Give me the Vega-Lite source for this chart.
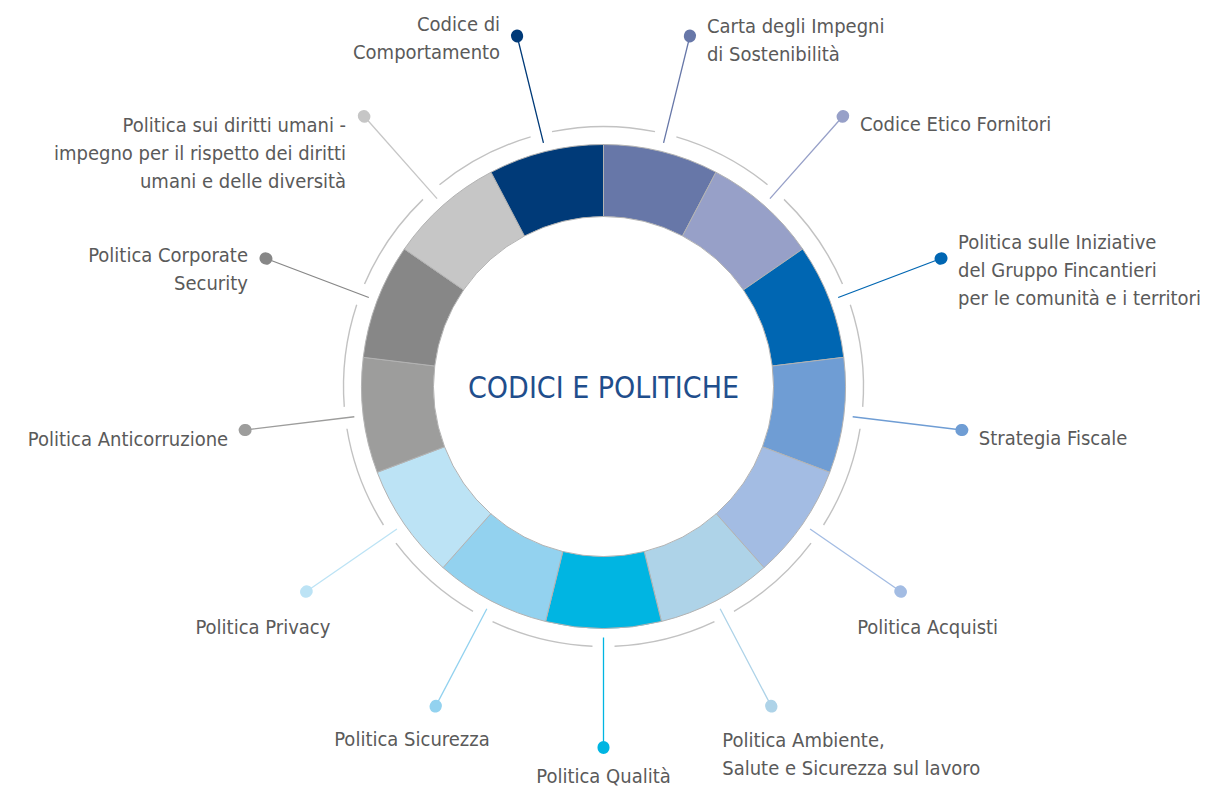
{
  "$schema": "https://vega.github.io/schema/vega-lite/v6.json",
  "width": 1207,
  "height": 773,
  "autosize": {"type": "none"},
  "padding": {"left": 0, "top": 0, "right": 20, "bottom": 18},
  "background": "white",
  "config": {"view": {"stroke": null}, "text": {"font": "DejaVu Sans Condensed, sans-serif", "fontSize": 20, "lineHeight": 28, "color": "#5a5a5a", "baseline": "middle", "radius": 361}},
  "data": {
    "values": [
      {"idx": 0, "name": "Carta degli Impegni di Sostenibilità", "label": ["Carta degli Impegni", "di Sostenibilità"], "v": 1},
      {"idx": 1, "name": "Codice Etico Fornitori", "label": ["Codice Etico Fornitori"], "v": 1},
      {"idx": 2, "name": "Politica sulle Iniziative del Gruppo Fincantieri per le comunità e i territori", "label": ["Politica sulle Iniziative", "del Gruppo Fincantieri", "per le comunità e i territori"], "v": 1},
      {"idx": 3, "name": "Strategia Fiscale", "label": ["Strategia Fiscale"], "v": 1},
      {"idx": 4, "name": "Politica Acquisti", "label": ["Politica Acquisti"], "v": 1},
      {"idx": 5, "name": "Politica Ambiente, Salute e Sicurezza sul lavoro", "label": ["Politica Ambiente,", "Salute e Sicurezza sul lavoro"], "v": 1},
      {"idx": 6, "name": "Politica Qualità", "label": ["Politica Qualità"], "v": 1},
      {"idx": 7, "name": "Politica Sicurezza", "label": ["Politica Sicurezza"], "v": 1},
      {"idx": 8, "name": "Politica Privacy", "label": ["Politica Privacy"], "v": 1},
      {"idx": 9, "name": "Politica Anticorruzione", "label": ["Politica Anticorruzione"], "v": 1},
      {"idx": 10, "name": "Politica Corporate Security", "label": ["Politica Corporate", "Security"], "v": 1},
      {"idx": 11, "name": "Politica sui diritti umani", "label": ["Politica sui diritti umani -", "impegno per il rispetto dei diritti", "umani e delle diversità"], "v": 1},
      {"idx": 12, "name": "Codice di Comportamento", "label": ["Codice di", "Comportamento"], "v": 1}
    ]
  },
  "encoding": {
    "theta": {"field": "v", "type": "quantitative", "stack": true},
    "order": {"field": "idx", "type": "quantitative"}
  },
  "resolve": {"scale": {"theta": "independent"}},
  "layer": [
    {
      "mark": {"type": "arc", "radius": 260.7, "radius2": 259.3, "padAngle": 0.06, "fill": "#c2c2c2"},
      "encoding": {
        "theta": {"field": "v", "type": "quantitative", "stack": true, "scale": {"range": [0.24166, 6.52485]}}
      }
    },
    {
      "mark": {"type": "arc", "radius": 242, "radius2": 170, "stroke": "#b3b3b3", "strokeWidth": 1},
      "encoding": {
        "color": {
          "field": "idx", "type": "nominal", "legend": null,
          "scale": {
            "domain": [0, 1, 2, 3, 4, 5, 6, 7, 8, 9, 10, 11, 12],
            "range": ["#6777a8", "#97a0c8", "#0066b2", "#6f9dd4", "#a3bce3", "#aed3e8", "#00b5e2", "#93d2ef", "#bce3f5", "#9d9d9c", "#878787", "#c6c6c6", "#003a78"]
          }
        }
      }
    },
    {
      "mark": {"type": "arc", "filled": false, "radius": 361, "radius2": 251, "padAngle": 1.2, "strokeWidth": 1.3},
      "encoding": {
        "color": {"field": "idx", "type": "nominal", "legend": null}
      }
    },
    {
      "mark": {"type": "arc", "filled": false, "radius": 361.5, "radius2": 360.5, "padAngle": 1.2, "strokeWidth": 12, "strokeCap": "round", "strokeJoin": "round"},
      "encoding": {
        "color": {"field": "idx", "type": "nominal", "legend": null}
      }
    },
    {
      "mark": {"type": "text", "align": "left", "dx": 17, "dy": -9},
      "encoding": {"text": {"condition": {"test": "datum.idx == 0", "field": "label"}, "value": ""}}
    },
    {
      "mark": {"type": "text", "align": "left", "dx": 17, "dy": 9},
      "encoding": {"text": {"condition": {"test": "datum.idx == 1 || datum.idx == 3", "field": "label"}, "value": ""}}
    },
    {
      "mark": {"type": "text", "align": "left", "dx": 17, "dy": -15},
      "encoding": {"text": {"condition": {"test": "datum.idx == 2", "field": "label"}, "value": ""}}
    },
    {
      "mark": {"type": "text", "align": "right", "dx": -17, "dy": -11},
      "encoding": {"text": {"condition": {"test": "datum.idx == 12", "field": "label"}, "value": ""}}
    },
    {
      "mark": {"type": "text", "align": "right", "dx": -18, "dy": -2},
      "encoding": {"text": {"condition": {"test": "datum.idx == 10", "field": "label"}, "value": ""}}
    },
    {
      "mark": {"type": "text", "align": "right", "dx": -17, "dy": 10},
      "encoding": {"text": {"condition": {"test": "datum.idx == 9", "field": "label"}, "value": ""}}
    },
    {
      "mark": {"type": "text", "align": "right", "dx": -18, "dy": 10},
      "encoding": {"text": {"condition": {"test": "datum.idx == 11", "field": "label"}, "value": ""}}
    },
    {
      "mark": {"type": "text", "align": "center", "dx": 27, "dy": 36},
      "encoding": {"text": {"condition": {"test": "datum.idx == 4", "field": "label"}, "value": ""}}
    },
    {
      "mark": {"type": "text", "align": "left", "dx": -49, "dy": 35},
      "encoding": {"text": {"condition": {"test": "datum.idx == 5", "field": "label"}, "value": ""}}
    },
    {
      "mark": {"type": "text", "align": "center", "dx": 0, "dy": 29},
      "encoding": {"text": {"condition": {"test": "datum.idx == 6", "field": "label"}, "value": ""}}
    },
    {
      "mark": {"type": "text", "align": "right", "dx": 54, "dy": 34},
      "encoding": {"text": {"condition": {"test": "datum.idx == 7", "field": "label"}, "value": ""}}
    },
    {
      "mark": {"type": "text", "align": "right", "dx": 24, "dy": 36},
      "encoding": {"text": {"condition": {"test": "datum.idx == 8", "field": "label"}, "value": ""}}
    },
    {
      "data": {"values": [{"title": "CODICI E POLITICHE"}]},
      "mark": {"type": "text", "align": "center", "baseline": "alphabetic", "radius": 0, "dy": 11, "fontSize": 30, "color": "#1f4e8c"},
      "encoding": {
        "theta": null,
        "order": null,
        "text": {"field": "title", "type": "nominal"}
      }
    }
  ]
}
